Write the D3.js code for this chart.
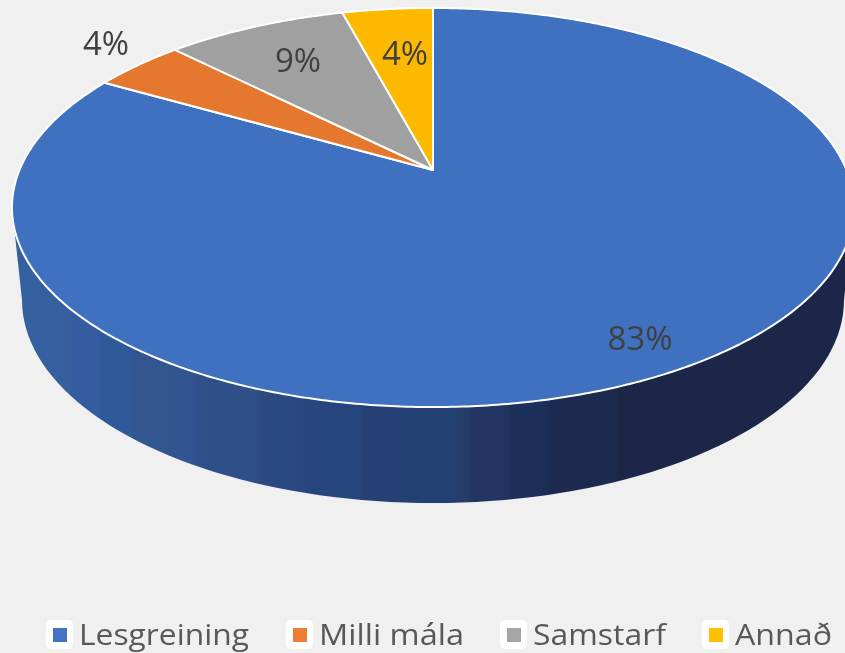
<!DOCTYPE html>
<html>
<head>
<meta charset="utf-8">
<script src="https://cdn.jsdelivr.net/npm/d3@7"></script>
<style>
  html, body { margin: 0; padding: 0; background: #f0f0f0; overflow: hidden; }
  text { font-family: "Open Sans", "Noto Sans", sans-serif; }
</style>
</head>
<body>
<div id="chart"></div>
<script>
var categories = ["Lesgreining", "Milli mála", "Samstarf", "Annað"];
var shares = [83.25, 4.25, 8.33, 4.17];
var labels = ["83%", "4%", "9%", "4%"];

var sliceColors = ["#4170c0", "#e5782d", "#a0a0a0", "#fdb900"];
var legendColors = ["#4472c4", "#ed7d31", "#a5a5a5", "#ffc000"];

// where things go on the page
var labelPos = [[640, 338], [106, 43], [298, 60], [405, 53]];
var legendX = [46, 286, 500, 702];
var legendTextWidth = [170, 145, 133, 97];

var width = 845, height = 653;

var svg = d3.select("#chart")
  .append("svg")
  .attr("width", width)
  .attr("height", height);

var defs = svg.append("defs");

// reference is a slightly soft screenshot
defs.append("filter").attr("id", "soft")
  .attr("filterUnits", "userSpaceOnUse")
  .attr("x", 0).attr("y", 0).attr("width", width).attr("height", height)
  .append("feGaussianBlur").attr("stdDeviation", 0.7);

// Tilted disc: perspective projection of a unit circle
var apexX = 433, apexY = 170;
var persp = 0.188, radX = 413.5, radY = 192.5;

function project(theta, r) {
  var u = r * Math.sin(theta), v = r * Math.cos(theta);
  var k = 1 / (1 + persp * v);
  return [apexX + radX * u * k, apexY - radY * v * k];
}

// The bottom rim is an ellipse below the top rim
var topCy = 207.5, topRx = 421;
var lowCy = 300, lowRy = 203, lowRx = 411;

function lowerRim(t) {
  return [apexX + lowRx * Math.cos(t), lowCy + lowRy * Math.sin(t)];
}

// Side wall shading comes in vertical bands, edges a bit soft
var bandEdges = [20, 52, 72, 98, 132, 165, 192, 202, 258, 268, 303, 363, 400, 457, 470, 507, 547, 615, 845];
var bandColors = ["#34609f", "#345e9e", "#365ba0", "#2f5a9a", "#31578f", "#305490", "#33508e", "#2d4f88",
  "#2e4a80", "#2c4880", "#28457c", "#254074", "#234071", "#253c69", "#223463", "#1f2f5a", "#1a2c50", "#1a2849"];

var grad = defs.append("linearGradient")
  .attr("id", "wall")
  .attr("gradientUnits", "userSpaceOnUse")
  .attr("x1", bandEdges[0]).attr("x2", bandEdges[bandEdges.length - 1])
  .attr("y1", 0).attr("y2", 0);

var edgeScale = d3.scaleLinear()
  .domain([bandEdges[0], bandEdges[bandEdges.length - 1]])
  .range([0, 1]);

bandColors.forEach(function (c, i) {
  grad.append("stop").attr("offset", edgeScale(bandEdges[i] + 3)).attr("stop-color", c);
  grad.append("stop").attr("offset", edgeScale(bandEdges[i + 1] - 3)).attr("stop-color", c);
});

var line = d3.line();
var g = svg.append("g");

// wall
var wallPts = [[apexX - topRx, topCy]];
d3.range(0, 181, 2).forEach(function (a) {
  wallPts.push(lowerRim(Math.PI - a * Math.PI / 180));
});
wallPts.push([apexX + topRx, topCy]);

g.append("path")
  .attr("d", line(wallPts) + "Z")
  .attr("fill", "url(#wall)");

// slices
var pie = d3.pie().sort(null).value(function (d) { return d; });
var slices = pie(shares);

g.selectAll("path.slice")
  .data(slices)
  .enter()
  .append("path")
  .attr("class", "slice")
  .attr("d", function (d) {
    var pts = [[apexX, apexY]];
    var n = Math.ceil((d.endAngle - d.startAngle) / 0.01);
    for (var i = 0; i <= n; i++) {
      pts.push(project(d.startAngle + (d.endAngle - d.startAngle) * i / n, 1));
    }
    return line(pts) + "Z";
  })
  .attr("fill", function (d, i) { return sliceColors[i]; })
  .attr("stroke", "#fff")
  .attr("stroke-width", 2)
  .attr("stroke-linejoin", "round");

// data labels
g.selectAll("text.label")
  .data(labels)
  .enter()
  .append("text")
  .attr("class", "label")
  .attr("x", function (d, i) { return labelPos[i][0]; })
  .attr("y", function (d, i) { return labelPos[i][1]; })
  .attr("dy", "0.36em")
  .attr("text-anchor", "middle")
  .attr("font-size", 33)
  .attr("fill", "#404040")
  .text(function (d) { return d; });

// legend
var legend = g.selectAll("g.legend")
  .data(categories)
  .enter()
  .append("g")
  .attr("class", "legend")
  .attr("transform", function (d, i) { return "translate(" + legendX[i] + ",620)"; });

legend.append("rect")
  .attr("width", 27).attr("height", 29).attr("rx", 5)
  .attr("fill", "#fff");

legend.append("rect")
  .attr("x", 7).attr("y", 8)
  .attr("width", 14).attr("height", 14)
  .attr("fill", function (d, i) { return legendColors[i]; });

legend.append("text")
  .attr("x", 33)
  .attr("y", 24.5)
  .attr("font-size", 30)
  .attr("fill", "#595959")
  .attr("textLength", function (d, i) { return legendTextWidth[i]; })
  .attr("lengthAdjust", "spacingAndGlyphs")
  .text(function (d) { return d; });

g.attr("filter", "url(#soft)");
</script>
</body>
</html>
